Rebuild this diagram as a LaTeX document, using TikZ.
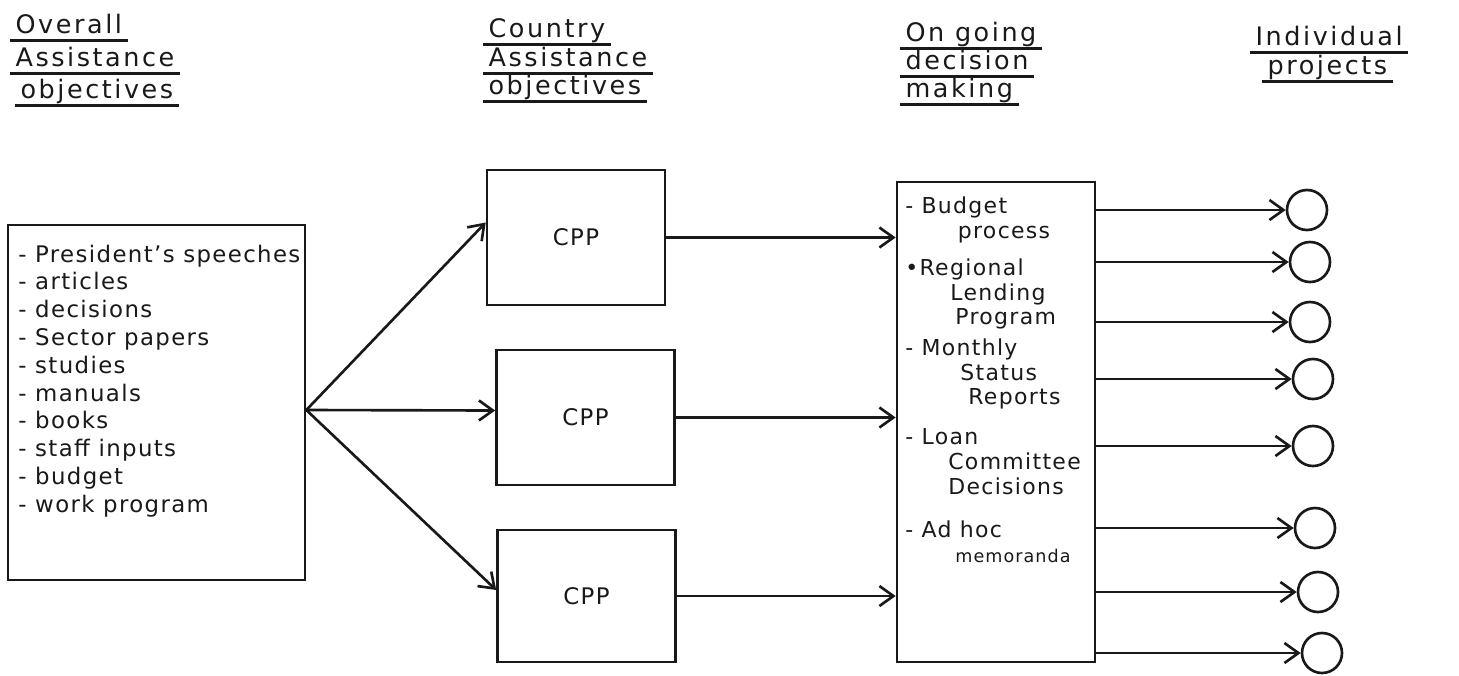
\documentclass[tikz,border=0pt]{standalone}
\usepackage{fontspec}
\setmainfont{DejaVu Sans}[LetterSpace=6]
\newfontfamily\headfont{DejaVu Sans}[LetterSpace=10]
\usetikzlibrary{arrows.meta,positioning,calc}
\definecolor{ink}{RGB}{25,25,25}
\tikzset{
  >={Straight Barb[length=2.8mm,width=4mm,line width=1.5pt]},
  frame/.style={draw=ink,line width=1.5pt,inner sep=0pt},
  cppbox/.style={frame,minimum width=3.56cm,minimum height=2.7cm,
    font=\fontsize{13}{15}\selectfont,text=ink},
  head/.style={font=\headfont\fontsize{14.5}{16}\selectfont,text=ink,inner xsep=3pt,
    inner ysep=0pt,text depth=4pt,anchor=base west},
  uline/.style={draw=ink,line width=1.6pt},
  items/.style={font=\fontsize{13}{15.8}\selectfont,text=ink,align=left,
    inner sep=0pt,anchor=north west},
  notes/.style={font=\fontsize{12.5}{14.2}\selectfont,text=ink,align=left,
    inner sep=0pt,anchor=north west},
  flow/.style={->,draw=ink,line width=1.5pt},
  proj/.style={circle,draw=ink,line width=1.5pt,minimum size=8mm,inner sep=0pt},
}
\begin{document}
\begin{tikzpicture}
  \useasboundingbox (0,0) rectangle (29.18,-13.5);
  % column headings
  \foreach \t/\x/\y [count=\i] in {Overall/0.2/-0.66,Assistance/0.2/-1.32,objectives/0.3/-1.96,
      Country/9.66/-0.74,Assistance/9.66/-1.32,objectives/9.66/-1.88,
      On going/18.0/-0.82,decision/18.0/-1.38,making/18.0/-1.94,
      Individual/25.0/-0.9,projects/25.24/-1.48}{
    \node[head] (hd\i) at (\x,\y) {\t};
    \draw[uline] (hd\i.south west) -- (hd\i.south east);
  }
  % sources
  \node[frame,minimum width=5.94cm,minimum height=7.1cm] (src) at (3.13,-8.05) {};
  \node[items] (srclist) at (0.36,-4.89) {- President's speeches\\- articles\\- decisions\\
    - Sector papers\\- studies\\- manuals\\- books\\- staff inputs\\- budget\\- work program};
  \coordinate (fan) at ([yshift=-0.15cm]src.east);
  % country programs
  \node[cppbox] (cpp1) at (11.52,-4.75) {CPP};
  \node[cppbox] (cpp2) at (11.71,-8.35) {CPP};
  \node[cppbox,minimum height=2.64cm] (cpp3) at (11.73,-11.92) {CPP};
  \draw[flow] (fan) -- ([yshift=0.3cm]cpp1.west);
  \draw[flow] (fan) -- ([yshift=0.14cm]cpp2.west);
  \draw[flow] (fan) -- ([yshift=0.12cm]cpp3.west);
  % decision making
  \node[frame,minimum width=3.96cm,minimum height=9.6cm] (dec) at (19.92,-8.44) {};
  \node[notes] (dec1) at (18.1,-3.92) {- Budget\\\hspace*{1.05cm}process};
  \node[notes] (dec2) at (18.1,-5.16) {•Regional\\\hspace*{0.9cm}Lending\\\hspace*{1cm}Program};
  \node[notes] (dec3) at (18.1,-6.76) {- Monthly\\\hspace*{1.1cm}Status\\\hspace*{1.26cm}Reports};
  \node[notes] (dec4) at (18.1,-8.56) {- Loan\\\hspace*{0.86cm}Committee\\\hspace*{0.86cm}Decisions};
  \node[notes] (dec5) at (18.1,-10.40) {- Ad hoc\\\hspace*{1cm}{\fontsize{10}{12}\selectfont memoranda}};
  \foreach \i in {1,2,3}
    \draw[flow] (cpp\i.east) -- (cpp\i.east -| dec.west);
  % projects
  \foreach \x/\y [count=\i] in {26.14/-4.2,26.2/-5.24,26.2/-6.44,26.26/-7.58,
      26.26/-8.92,26.3/-10.56,26.36/-11.84,26.44/-13.06}{
    \node[proj] (proj\i) at (\x,\y) {};
    \draw[flow] (proj\i -| dec.east) -- (proj\i.west);
  }
\end{tikzpicture}
\end{document}
